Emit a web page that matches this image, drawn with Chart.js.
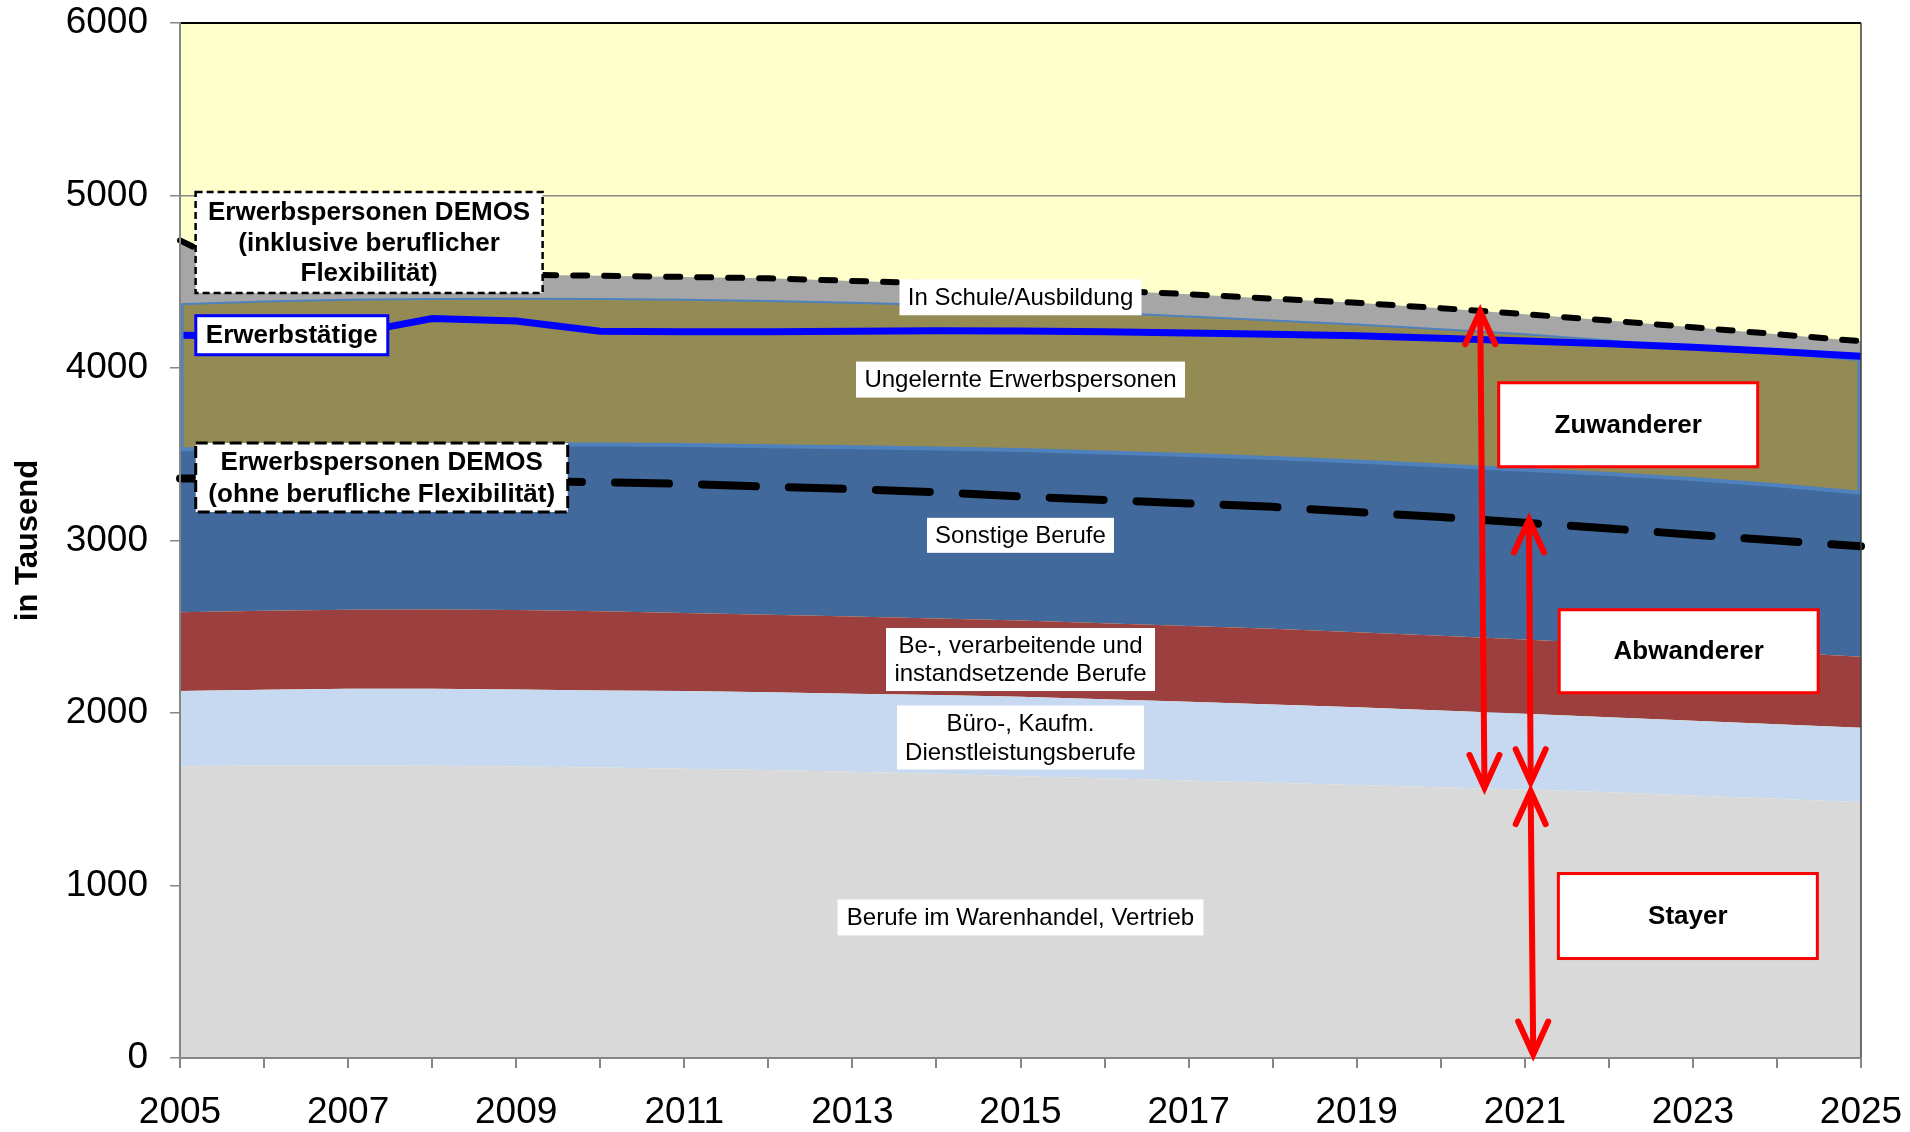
<!DOCTYPE html>
<html lang="de">
<head>
<meta charset="utf-8">
<title>Erwerbspersonen nach Berufsgruppen</title>
<script src="https://cdn.jsdelivr.net/npm/chart.js@4.4.1/dist/chart.umd.min.js"></script>
<style>
html, body { margin: 0; padding: 0; background: #fff; }
#wrap { width: 1910px; height: 1132px; }
</style>
</head>
<body>
<div id="wrap"><canvas id="berufeChart" width="1910" height="1132"></canvas></div>
<script>
const years = ['2005', '2006', '2007', '2008', '2009', '2010', '2011', '2012', '2013', '2014', '2015',
               '2016', '2017', '2018', '2019', '2020', '2021', '2022', '2023', '2024', '2025'];

// stacked areas, in Tausend
const warenhandel   = [1692, 1695, 1696, 1694, 1690, 1684, 1677, 1669, 1660, 1648, 1634, 1622, 1608, 1595, 1582, 1570, 1557, 1540, 1522, 1503, 1483];
const bueroDienst   = [435, 440, 444, 446, 446, 447, 450, 451, 452, 456, 460, 458, 457, 455, 451, 445, 438, 435, 433, 432, 431];
const verarbeitend  = [457, 458, 458, 460, 461, 459, 453, 450, 448, 444, 442, 440, 440, 438, 435, 433, 431, 427, 423, 417, 412];
const sonstige      = [943, 947, 952, 955, 960, 967, 973, 977, 980, 985, 989, 990, 990, 990, 990, 987, 984, 983, 979, 968, 951];
const ungelernte    = [843, 845, 845, 845, 845, 843, 842, 841, 838, 832, 820, 810, 803, 797, 794, 790, 785, 775, 765, 765, 768];
const schule        = [370, 115, 135, 140, 138, 135, 133, 132, 127, 125, 130, 130, 130, 127, 126, 122, 117, 115, 114, 111, 110];

// lines
const erwerbstaetige  = [4190, 4185, 4195, 4287, 4272, 4213, 4210, 4210, 4213, 4216, 4215, 4210, 4203, 4195, 4187, 4172, 4157, 4140, 4120, 4095, 4068];
const demosInklusive  = [4740, 4500, 4530, 4540, 4540, 4535, 4528, 4520, 4505, 4490, 4475, 4450, 4428, 4402, 4378, 4347, 4312, 4275, 4236, 4196, 4155];
const demosOhne       = [3360, 3358, 3354, 3350, 3346, 3338, 3328, 3312, 3298, 3280, 3255, 3235, 3215, 3195, 3165, 3136, 3103, 3070, 3033, 3000, 2967];

const yTicks = [0, 1000, 2000, 3000, 4000, 5000, 6000];

const FONT = '"Liberation Sans", Arial, sans-serif';
Chart.defaults.font.family = FONT;
Chart.defaults.color = '#000';

// text boxes, placed in data units (year, value), size in px
const boxes = [
  { lines: ['Erwerbspersonen DEMOS', '(inklusive beruflicher', 'Flexibilität)'], year: 2007.25, value: 4728, w: 347, h: 101, bold: true, lh: 30.7, border: '#000', lw: 2.5, dash: [7, 4] },
  { lines: ['Erwerbstätige'], year: 2006.33, value: 4190, w: 192, h: 39, bold: true, border: '#0000FF', lw: 3 },
  { lines: ['Erwerbspersonen DEMOS', '(ohne berufliche Flexibilität)'], year: 2007.4, value: 3365, w: 372, h: 69, bold: true, lh: 31.7, border: '#000', lw: 3, dash: [12, 5] },
  { lines: ['In Schule/Ausbildung'], year: 2015, value: 4410, w: 242, h: 36 },
  { lines: ['Ungelernte Erwerbspersonen'], year: 2015, value: 3933, w: 329, h: 36 },
  { lines: ['Sonstige Berufe'], year: 2015, value: 3030, w: 187, h: 35 },
  { lines: ['Be-, verarbeitende und', 'instandsetzende Berufe'], year: 2015, value: 2310, w: 269, h: 63, lh: 28 },
  { lines: ['Büro-, Kaufm.', 'Dienstleistungsberufe'], year: 2015, value: 1858, w: 247, h: 64, lh: 29 },
  { lines: ['Berufe im Warenhandel, Vertrieb'], year: 2015, value: 815, w: 366, h: 36 },
  { lines: ['Zuwanderer'], year: 2022.23, value: 3671, w: 259, h: 84, bold: true, border: '#FF0000', lw: 3 },
  { lines: ['Abwanderer'], year: 2022.95, value: 2358, w: 259, h: 83, bold: true, border: '#FF0000', lw: 3 },
  { lines: ['Stayer'], year: 2022.94, value: 823, w: 259, h: 85, bold: true, border: '#FF0000', lw: 3 }
];

// double arrows: from (year, value) to (year, value)
const arrows = [
  { y1: 2020.47, v1: 4329, y2: 2020.52, v2: 1566 },
  { y1: 2021.05, v1: 3122, y2: 2021.07, v2: 1599 },
  { y1: 2021.07, v1: 1547, y2: 2021.1, v2: 20 }
];

const yearX = (chart, y) => chart.scales.x.getPixelForValue(y - 2005);
const valY = (chart, v) => chart.scales.y.getPixelForValue(v);

const plotFrame = {
  id: 'plotFrame',
  beforeDraw(chart) {
    const { ctx, chartArea: a } = chart;
    ctx.save();
    ctx.fillStyle = '#FFFFCC';
    ctx.fillRect(a.left, a.top, a.right - a.left, a.bottom - a.top);
    ctx.restore();
  },
  afterDatasetsDraw(chart) {
    const { ctx, chartArea: a } = chart;
    ctx.save();
    // side edges of the "Ungelernte" area
    const top = chart.getDatasetMeta(4).data, bot = chart.getDatasetMeta(3).data;
    const n = top.length - 1;
    ctx.strokeStyle = '#4F81BD';
    ctx.lineWidth = 3;
    ctx.beginPath();
    ctx.moveTo(a.left + 2, top[0].y);
    ctx.lineTo(a.left + 2, bot[0].y);
    ctx.moveTo(a.right - 2, top[n].y);
    ctx.lineTo(a.right - 2, bot[n].y);
    ctx.stroke();

    ctx.strokeStyle = '#000';
    ctx.lineWidth = 2;
    ctx.beginPath();
    ctx.moveTo(a.left, a.top);
    ctx.lineTo(a.right, a.top);
    ctx.stroke();
    ctx.strokeStyle = '#404040';
    ctx.lineWidth = 1.5;
    ctx.beginPath();
    ctx.moveTo(a.right, a.top);
    ctx.lineTo(a.right, a.bottom);
    ctx.stroke();
    ctx.restore();
  }
};

function head(ctx, x, y, dir) {
  ctx.beginPath();
  ctx.moveTo(x - 15, y + dir * 33);
  ctx.lineTo(x, y);
  ctx.lineTo(x + 15, y + dir * 33);
  ctx.stroke();
}

const notes = {
  id: 'notes',
  afterDraw(chart) {
    const ctx = chart.ctx;
    ctx.save();
    boxes.forEach(b => {
      const cx = yearX(chart, b.year), cy = valY(chart, b.value);
      const x = cx - b.w / 2, y = cy - b.h / 2;
      ctx.fillStyle = '#fff';
      ctx.fillRect(x, y, b.w, b.h);
      if (b.border) {
        ctx.strokeStyle = b.border;
        ctx.lineWidth = b.lw;
        ctx.setLineDash(b.dash || []);
        ctx.strokeRect(x, y, b.w, b.h);
        ctx.setLineDash([]);
      }
      ctx.fillStyle = '#000';
      ctx.font = (b.bold ? '700 26px ' : '24px ') + FONT;
      ctx.textAlign = 'center';
      ctx.textBaseline = 'middle';
      const lh = b.lh || 0;
      b.lines.forEach((t, i) => {
        ctx.fillText(t, cx, cy + (i - (b.lines.length - 1) / 2) * lh + 1);
      });
    });

    ctx.strokeStyle = '#FF0000';
    ctx.lineWidth = 6;
    ctx.lineCap = 'round';
    ctx.lineJoin = 'miter';
    arrows.forEach(a => {
      const x1 = yearX(chart, a.y1), p1 = valY(chart, a.v1);
      const x2 = yearX(chart, a.y2), p2 = valY(chart, a.v2);
      ctx.beginPath();
      ctx.moveTo(x1, p1 + 4);
      ctx.lineTo(x2, p2 - 4);
      ctx.stroke();
      head(ctx, x1, p1, 1);
      head(ctx, x2, p2, -1);
    });
    ctx.restore();
  }
};

function area(label, data, color, border, bw) {
  return {
    label, data,
    backgroundColor: color,
    borderColor: border || color,
    borderWidth: bw || 0,
    fill: label === 'Berufe im Warenhandel, Vertrieb' ? 'origin' : '-1',
    stack: 'berufe',
    order: 1,
    pointRadius: 0,
    tension: 0
  };
}

// drop the label overhang so the plot area is set by layout.padding
function noOverhang(s) {
  s.paddingTop = 0;
  s.paddingBottom = 0;
  s.paddingLeft = 0;
  s.paddingRight = 0;
}

const ctx = document.getElementById('berufeChart').getContext('2d');
const berufeChart = new Chart(ctx, {
  type: 'line',
  data: {
    labels: years,
    datasets: [
      area('Berufe im Warenhandel, Vertrieb', warenhandel, '#D9D9D9'),
      area('Büro-, Kaufm. Dienstleistungsberufe', bueroDienst, '#C6D9F1'),
      area('Be-, verarbeitende und instandsetzende Berufe', verarbeitend, '#9C403F'),
      area('Sonstige Berufe', sonstige, '#41699B', '#4F81BD', 4),
      area('Ungelernte Erwerbspersonen', ungelernte, '#948A54', '#4F81BD', 2),
      area('In Schule/Ausbildung', schule, '#A6A6A6'),
      {
        label: 'Erwerbstätige', data: erwerbstaetige, stack: 'et', order: 0,
        borderColor: '#0000FF', borderWidth: 7, fill: false, pointRadius: 0, tension: 0
      },
      {
        label: 'Erwerbspersonen DEMOS (inklusive beruflicher Flexibilität)', data: demosInklusive, stack: 'inkl', order: 0,
        borderColor: '#000', borderWidth: 6, borderDash: [14, 17], borderCapStyle: 'round',
        fill: false, pointRadius: 0, tension: 0
      },
      {
        label: 'Erwerbspersonen DEMOS (ohne berufliche Flexibilität)', data: demosOhne, stack: 'ohne', order: 0,
        borderColor: '#000', borderWidth: 8, borderDash: [54, 33], borderCapStyle: 'round',
        fill: false, pointRadius: 0, tension: 0
      }
    ]
  },
  options: {
    responsive: false,
    devicePixelRatio: 1,
    animation: false,
    layout: { padding: { top: 23, right: 49, bottom: 0, left: 0 } },
    plugins: {
      legend: { display: false },
      tooltip: { enabled: false }
    },
    scales: {
      x: {
        offset: false,
        grid: { drawOnChartArea: false, drawTicks: true, tickLength: 10, color: '#868686', lineWidth: 2 },
        border: { color: '#868686', width: 2, z: 1 },
        ticks: {
          autoSkip: false, maxRotation: 0, minRotation: 0, padding: 23,
          font: { size: 37 }, color: '#000',
          callback: function (value, index) {
            return index % 2 === 0 ? this.getLabelForValue(value) : '';
          }
        },
        afterFit: s => { s.height = 74; noOverhang(s); }
      },
      y: {
        stacked: true,
        min: yTicks[0],
        max: yTicks[yTicks.length - 1],
        grid: { color: '#868686', lineWidth: 1.5, tickLength: 10 },
        border: { color: '#868686', width: 2, z: 1 },
        ticks: {
          stepSize: 1000, padding: 22, font: { size: 37 }, color: '#000',
          callback: v => String(v)
        },
        title: {
          display: true, text: 'in Tausend', color: '#000',
          font: { size: 31, weight: 'bold' }, padding: { top: 10, bottom: 0 }
        },
        afterFit: s => { s.width = 180; noOverhang(s); }
      }
    }
  },
  plugins: [plotFrame, notes]
});
</script>
</body>
</html>
